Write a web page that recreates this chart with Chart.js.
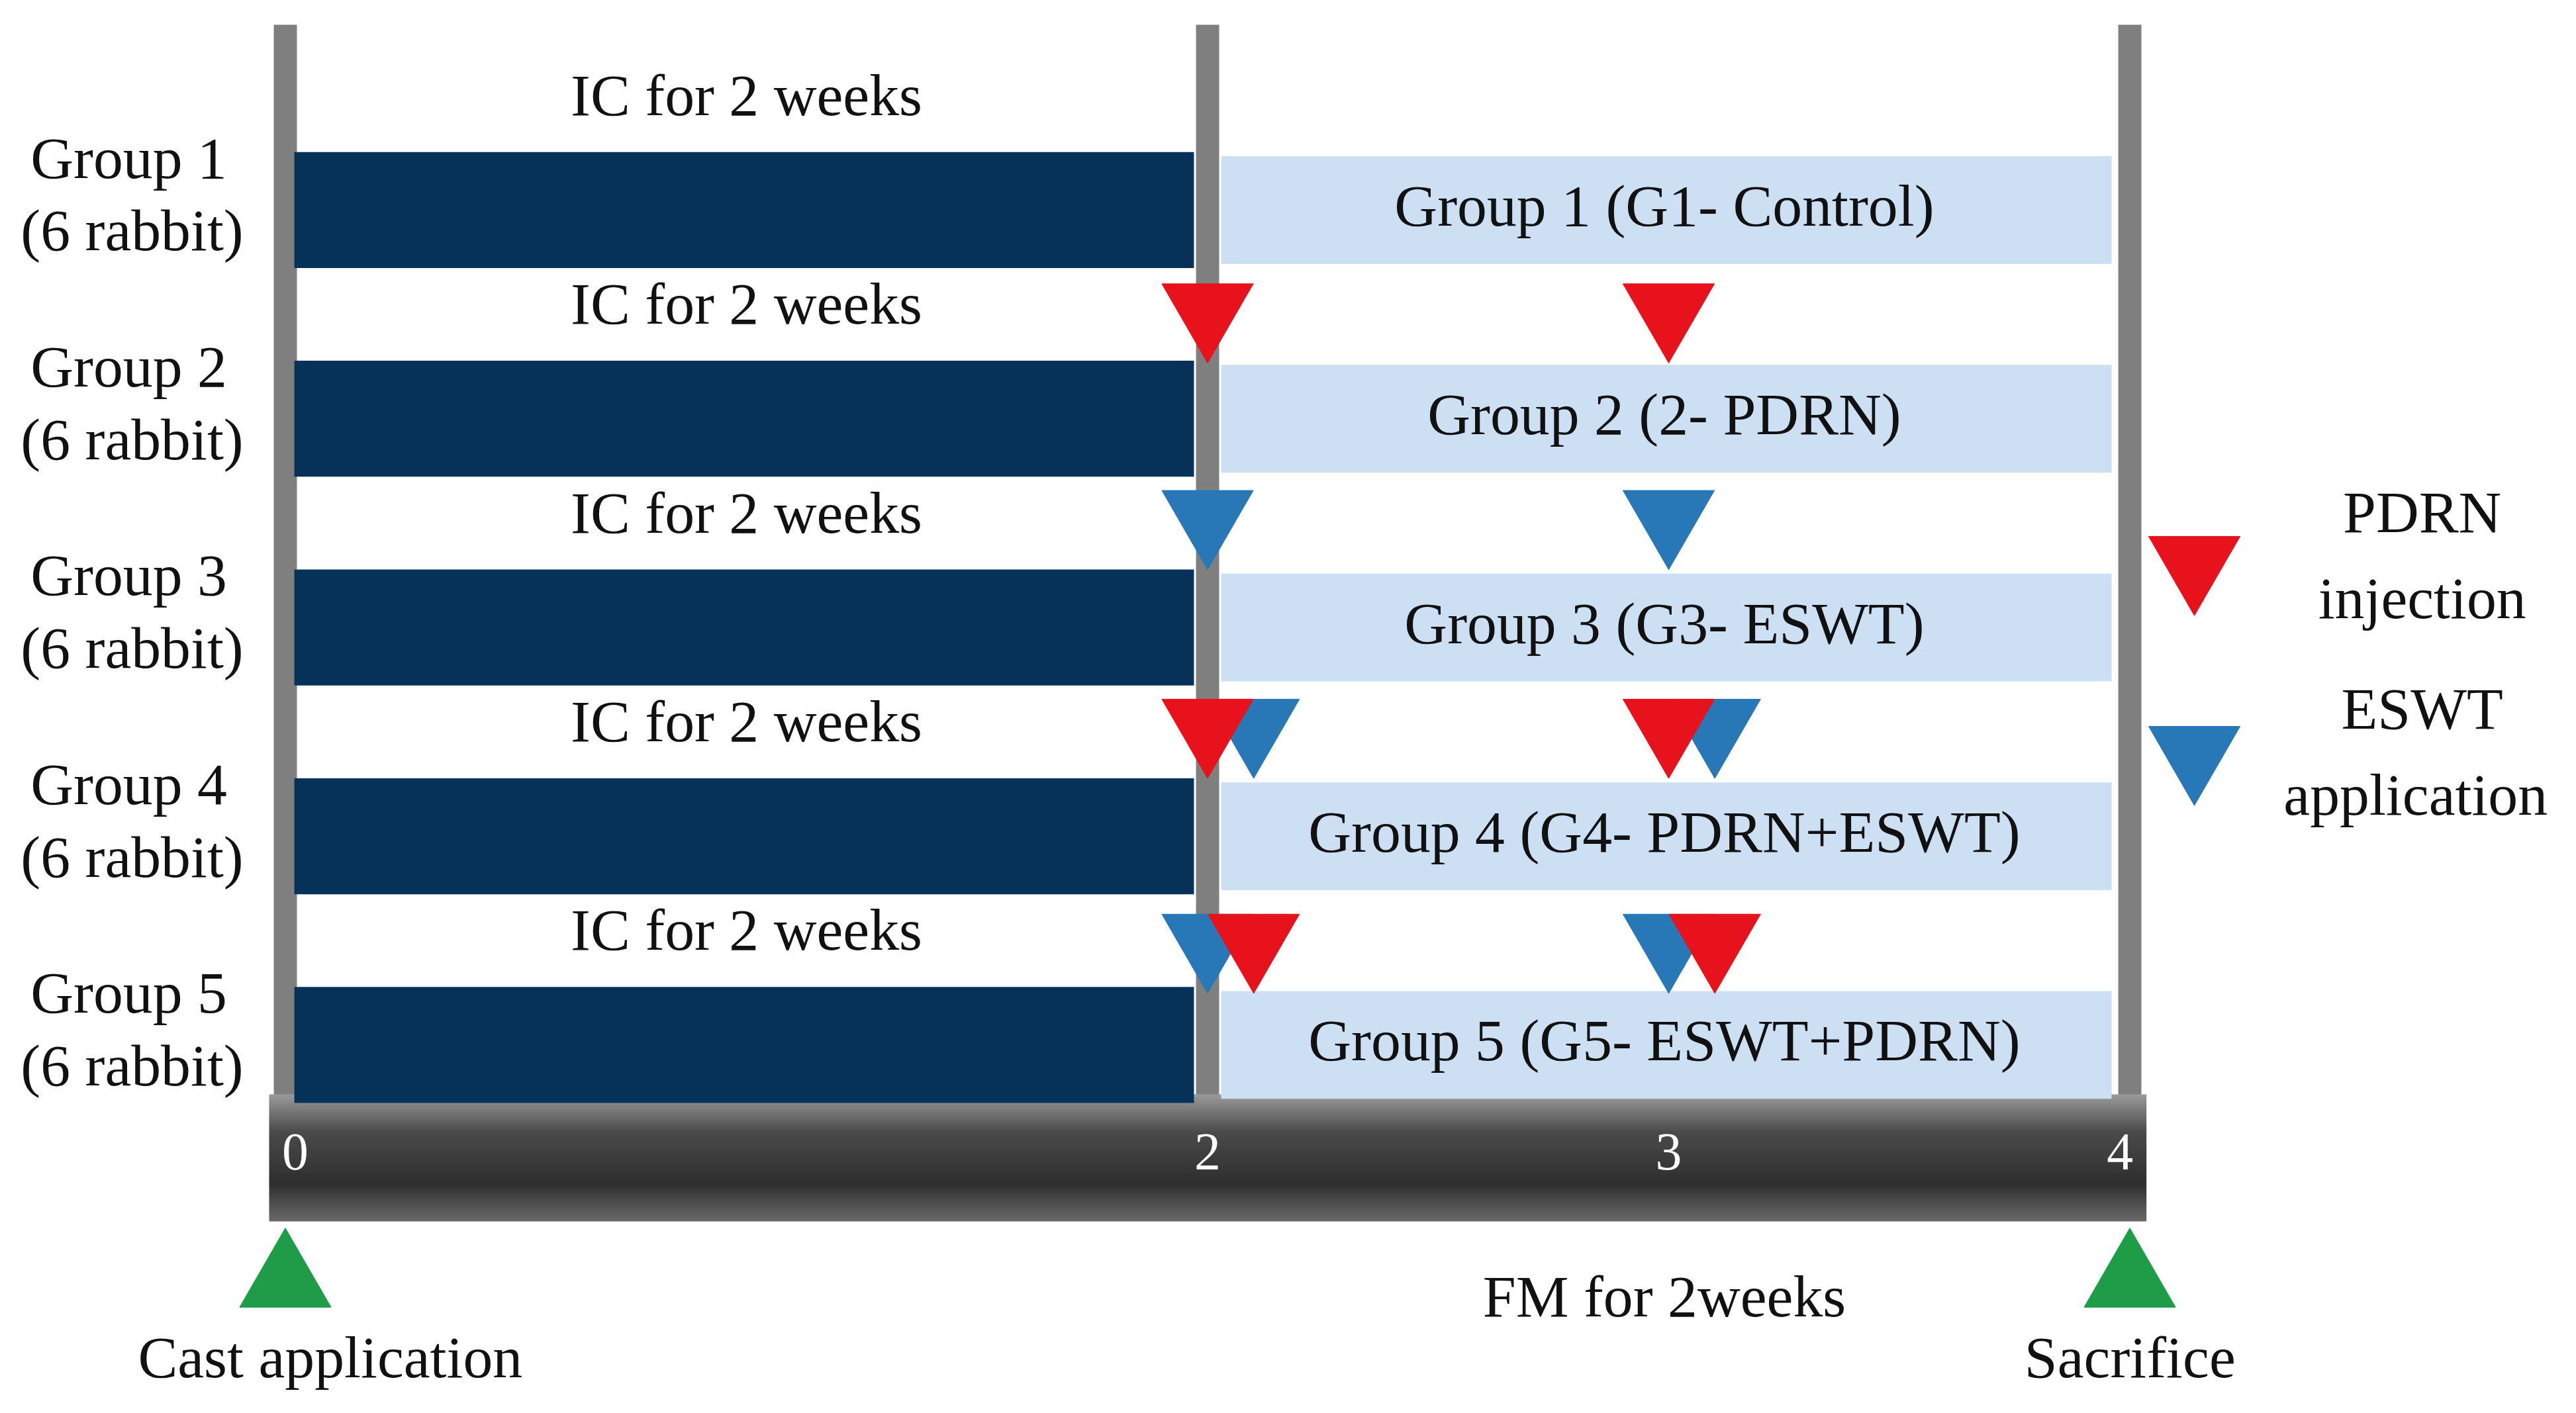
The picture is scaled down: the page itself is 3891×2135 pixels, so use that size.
<!DOCTYPE html>
<html>
<head>
<meta charset="utf-8">
<script src="https://cdn.jsdelivr.net/npm/chart.js@4.4.0/dist/chart.umd.min.js"></script>
<style>
  html, body { margin: 0; padding: 0; background: #fff; }
  #wrap { width: 3891px; height: 2135px; }
</style>
</head>
<body>
<div id="wrap"><canvas id="c"></canvas></div>
<script>
// rows (y = 1..5), weeks on x
const groups = ["Group 1", "Group 2", "Group 3", "Group 4", "Group 5"];
const groupNotes = ["(6 rabbit)", "(6 rabbit)", "(6 rabbit)", "(6 rabbit)", "(6 rabbit)"];
const treatLabels = ["Group 1 (G1- Control)", "Group 2 (2- PDRN)", "Group 3 (G3- ESWT)",
  "Group 4 (G4- PDRN+ESWT)", "Group 5 (G5- ESWT+PDRN)"];
const icSpan = [0.02, 1.97];
const fmSpan = [2.03, 3.96];
const weekTicks = [0, 2, 3, 4];
// triangle markers {x: week, y: row position}
const pdrnPoints = [{x: 2, y: 1.48}, {x: 3, y: 1.48}, {x: 2, y: 3.47}, {x: 3, y: 3.47},
  {x: 2.1, y: 4.5}, {x: 3.1, y: 4.5}];
const eswtPoints = [{x: 2, y: 2.47}, {x: 3, y: 2.47}, {x: 2.1, y: 3.47}, {x: 3.1, y: 3.47},
  {x: 2, y: 4.5}, {x: 3, y: 4.5}];
const legendPdrn = [{x: 4.14, y: 2.69}];
const legendEswt = [{x: 4.14, y: 3.6}];
const milestones = [{x: 0, y: 6.13}, {x: 4, y: 6.13}];

const S = 2.494;
const serif = "'Liberation Serif', 'DejaVu Serif', serif";

const decor = {
  id: "decor",
  beforeDatasetsDraw(chart) {
    const ctx = chart.ctx, xs = chart.scales.x;
    ctx.save();
    ctx.fillStyle = "#7f7f7f";
    [0, 2, 4].forEach(w => {
      const px = xs.getPixelForValue(w);
      ctx.fillRect(px - 7 * S, 15 * S, 14 * S, 655 * S);
    });
    // time axis bar
    const x0 = 163 * S, x1 = 1300 * S, y0 = 663 * S, y1 = 740 * S;
    const g = ctx.createLinearGradient(0, y0, 0, y1);
    g.addColorStop(0, "#9a9a9a");
    g.addColorStop(0.3, "#4a4a4a");
    g.addColorStop(0.7, "#2e2e2e");
    g.addColorStop(1, "#6a6a6a");
    ctx.fillStyle = g;
    ctx.fillRect(x0, y0, x1 - x0, y1 - y0);
    ctx.restore();
  },
  afterDatasetsDraw(chart) {
    const ctx = chart.ctx, xs = chart.scales.x, ys = chart.scales.y;
    ctx.save();
    ctx.textAlign = "center";
    ctx.textBaseline = "middle";
    ctx.font = 36 * S + "px " + serif;
    ctx.fillStyle = "#111";
    groups.forEach((name, i) => {
      const cy = ys.getPixelForValue(i + 1);
      ctx.fillText("IC for 2 weeks", xs.getPixelForValue(1), ys.getPixelForValue(i + 0.47));
      ctx.fillText(treatLabels[i], 1008 * S, cy);
      ctx.fillText(name, 78 * S, cy - 29 * S);
      ctx.fillText(groupNotes[i], 80 * S, cy + 15 * S);
    });
    ctx.fillText("PDRN", 1467 * S, 313 * S);
    ctx.fillText("injection", 1467 * S, 365 * S);
    ctx.fillText("ESWT", 1467 * S, 432 * S);
    ctx.fillText("application", 1463 * S, 484 * S);
    ctx.fillText("Cast application", 200 * S, 825 * S);
    ctx.fillText("FM for 2weeks", 1008 * S, 788 * S);
    ctx.fillText("Sacrifice", 1290 * S, 825 * S);
    ctx.fillStyle = "#fff";
    ctx.font = 32 * S + "px " + serif;
    weekTicks.forEach(w => {
      let px = xs.getPixelForValue(w);
      if (w === 0) px += 6 * S;
      if (w === 4) px -= 6 * S;
      ctx.fillText(String(w), px, 700 * S);
    });
    ctx.restore();
  }
};

function tri(data, color, rot) {
  return { type: "scatter", data: data, pointStyle: "triangle", rotation: rot,
    radius: 32 * S, hoverRadius: 32 * S, backgroundColor: color, borderColor: color,
    borderWidth: 1, clip: false, order: 0 };
}

new Chart(document.getElementById("c"), {
  type: "bar",
  data: {
    datasets: [
      { type: "bar", data: groups.map((g, i) => ({ x: icSpan, y: i + 1 })),
        backgroundColor: "#06325a", barThickness: 70 * S, grouped: false, order: 2 },
      { type: "bar", data: groups.map((g, i) => ({ x: fmSpan, y: i + 1 })),
        backgroundColor: "#cddff2", barThickness: 65 * S, grouped: false, order: 2 },
      tri(pdrnPoints, "#e8121c", 180),
      tri(eswtPoints, "#2878b8", 180),
      tri(legendPdrn, "#e8121c", 180),
      tri(legendEswt, "#2878b8", 180),
      tri(milestones, "#1f9c48", 0)
    ]
  },
  options: {
    indexAxis: "y",
    responsive: true,
    maintainAspectRatio: false,
    animation: false,
    layout: { padding: { left: 431, right: 465, top: 9, bottom: 83 } },
    plugins: { legend: { display: false }, tooltip: { enabled: false } },
    scales: {
      x: { type: "linear", min: 0, max: 4.3, offset: false, display: false },
      y: { type: "linear", min: 0.25, max: 6.5, reverse: true, offset: false, display: false }
    }
  },
  plugins: [decor]
});
</script>
</body>
</html>
